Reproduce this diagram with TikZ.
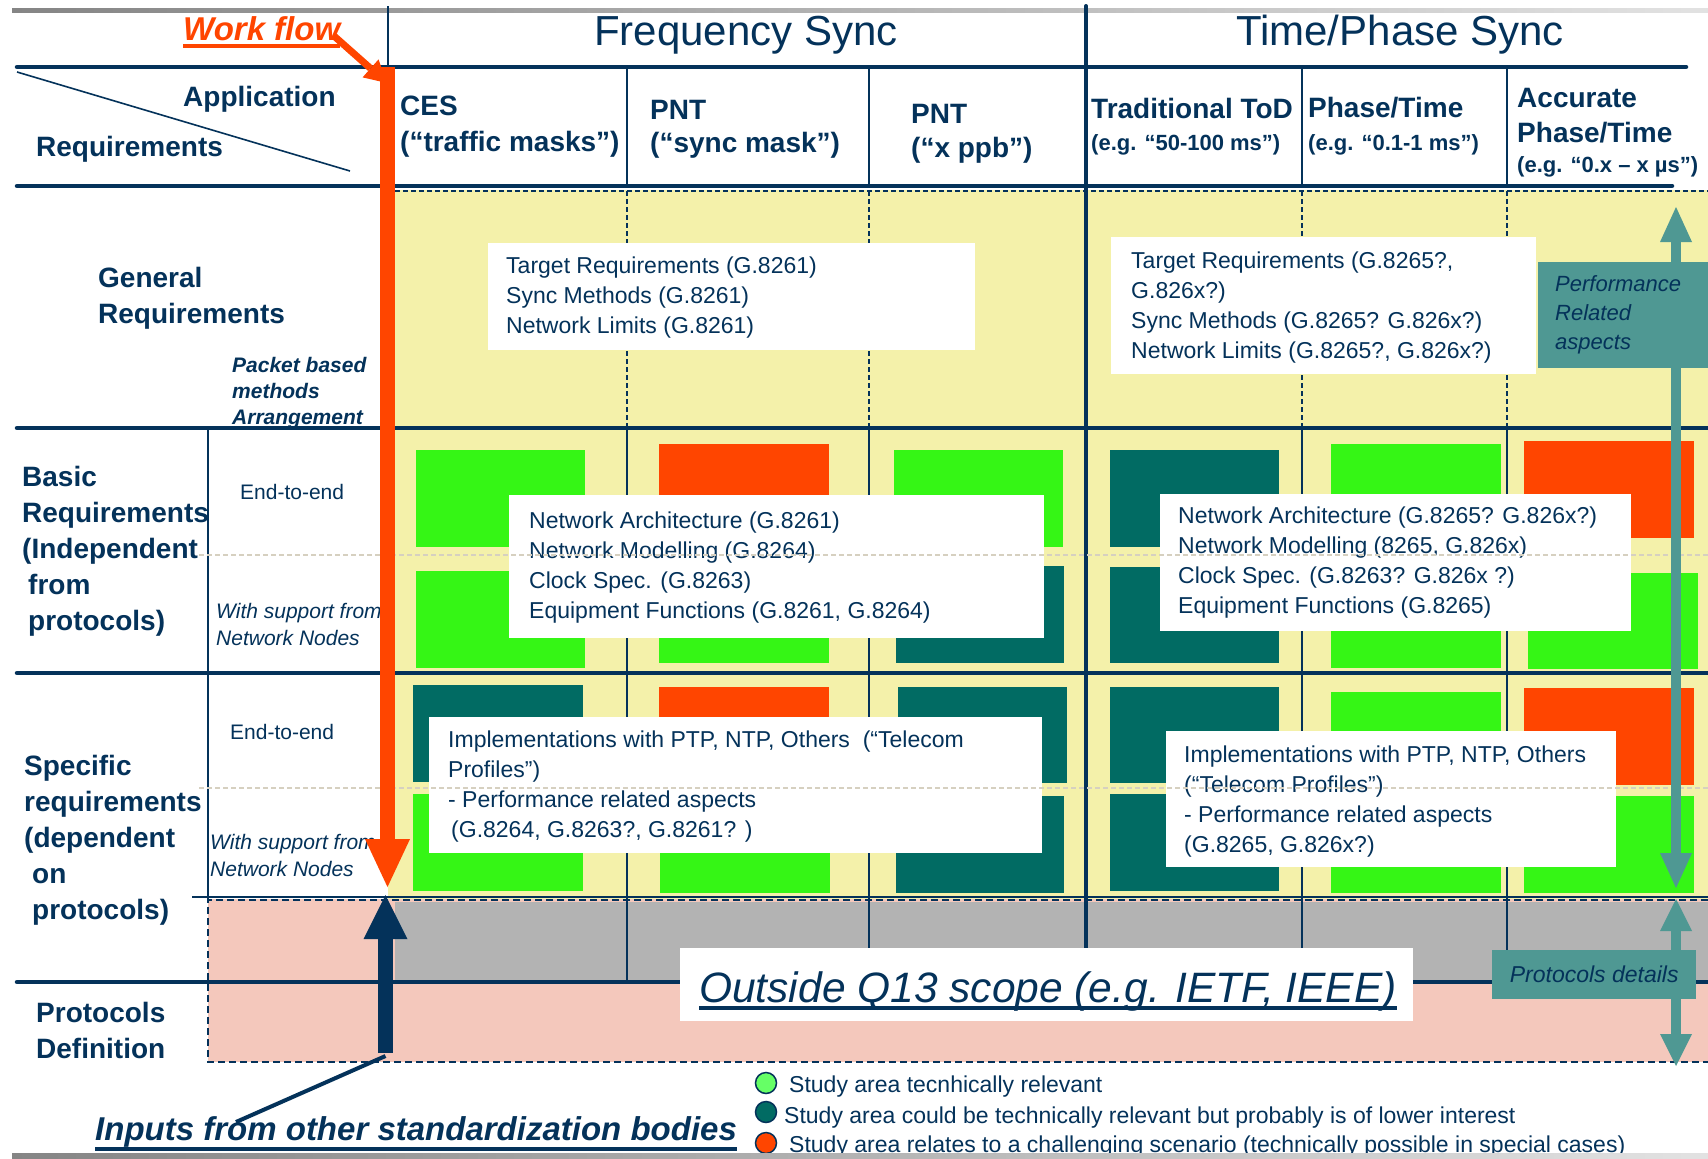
\documentclass[tikz,border=0pt]{standalone}
\usepackage{fontspec}
\setmainfont{Liberation Sans}
\usetikzlibrary{arrows.meta}
\definecolor{navy}{HTML}{04325A}
\definecolor{paleyellow}{HTML}{F4F1AA}
\definecolor{brightgreen}{HTML}{35F615}
\definecolor{hotred}{HTML}{FF4500}
\definecolor{darkteal}{HTML}{016B63}
\definecolor{midteal}{HTML}{4F9893}
\definecolor{scopegray}{HTML}{B3B3B3}
\definecolor{blush}{HTML}{F4C8BC}
\definecolor{legendgreen}{HTML}{66FF66}
\definecolor{sepline}{HTML}{D6D0C0}
\definecolor{rulegrayA}{HTML}{858585}
\definecolor{rulegrayB}{HTML}{E2E2E2}
\begin{document}
\begin{tikzpicture}[x=1pt,y=-1pt,
  every node/.style={inner sep=0pt, text=navy},
  grouphd/.style={font=\fontsize{42}{50}\selectfont},
  colhd/.style={anchor=west, font=\bfseries\fontsize{28}{34}\selectfont},
  colsub/.style={anchor=west, font=\bfseries\fontsize{22}{26}\selectfont},
  rowhd/.style={anchor=west, align=left, font=\bfseries\fontsize{28}{36}\selectfont},
  arrhd/.style={anchor=west, align=left, font=\bfseries\itshape\fontsize{21}{26}\selectfont},
  body/.style={anchor=west, align=left, font=\fontsize{23}{30}\selectfont},
  sublbl/.style={anchor=west, font=\fontsize{21}{27}\selectfont},
  sublblit/.style={anchor=west, align=left, font=\itshape\fontsize{21}{27}\selectfont},
  wbox/.style={fill=white, anchor=north west},
  tealbox/.style={fill=midteal, anchor=north west},
  thickrule/.style={draw=navy, line width=4.5pt, line cap=round},
  thinrule/.style={draw=navy, line width=1.6pt},
  dashrule/.style={draw=navy, line width=1.6pt, dash pattern=on 5pt off 3pt},
  seprule/.style={draw=sepline, line width=1.3pt, dash pattern=on 5pt off 3pt},
  legdot/.style={circle, draw=navy, line width=1.5pt, minimum size=21pt},
  legtxt/.style={anchor=west, font=\fontsize{23}{28}\selectfont}]

\useasboundingbox (0,0) rectangle (1708,1159);
\fill[white] (0,0) rectangle (1708,1159);

% top rule of the page
\shade[left color=rulegrayA, right color=rulegrayB] (12,8) rectangle (1708,12);

% coloured bands of the matrix
\fill[paleyellow] (388,190) rectangle (1708,899);
\fill[blush] (208,899) rectangle (1708,1062);
\fill[scopegray] (395,902) rectangle (1708,980);

% study area markers: basic requirements
\foreach \xa/\ya/\xb/\yb/\c in {
  416/450/585/547/brightgreen, 416/571/585/668/brightgreen,
  659/444/829/541/hotred,      659/566/829/663/brightgreen,
  894/450/1063/547/brightgreen, 896/566/1064/663/darkteal,
  1110/450/1279/547/darkteal,  1110/567/1279/663/darkteal,
  1331/444/1501/541/brightgreen, 1331/571/1501/668/brightgreen,
  1524/441/1694/538/hotred,    1528/573/1698/669/brightgreen}
  \fill[\c] (\xa,\ya) rectangle (\xb,\yb);
% study area markers: specific requirements
\foreach \xa/\ya/\xb/\yb/\c in {
  413/685/583/782/darkteal,    413/794/583/891/brightgreen,
  659/687/829/784/hotred,      660/796/830/893/brightgreen,
  898/687/1067/783/darkteal,   896/796/1064/893/darkteal,
  1110/687/1279/783/darkteal,  1110/794/1279/891/darkteal,
  1331/692/1501/789/brightgreen, 1331/796/1501/893/brightgreen,
  1524/688/1694/785/hotred,    1524/796/1694/893/brightgreen}
  \fill[\c] (\xa,\ya) rectangle (\xb,\yb);

% grid
\draw[dashrule] (395,191) -- (1708,191);
\draw[thinrule] (192,897) -- (1708,897);
\draw[navy, line width=2pt, dash pattern=on 7pt off 4pt] (1708,900) -- (208,900) -- (208,1062) -- (1708,1062);
\draw[thickrule] (17,67) -- (1686,67);
\draw[thickrule] (17,186) -- (1672,186);
\draw[thickrule] (17,428) -- (1708,428);
\draw[thickrule] (17,673) -- (1708,673);
\draw[thickrule] (17,982) -- (1708,982);
\draw[thinrule] (208,428) -- (208,899);
\draw[thinrule] (17,72) -- (350,171);
\draw[navy, line width=2.5pt] (388,6) -- (388,186);
\foreach \x in {627,869,1302,1507} {
  \draw[thinrule] (\x,67) -- (\x,186);
  \draw[dashrule] (\x,191) -- (\x,428);
  \draw[thinrule] (\x,428) -- (\x,980);
}
\draw[navy, line width=4pt, line cap=round] (1086,6) -- (1086,980);

% group headings
\node[grouphd] (freqsync) at (746,35) {Frequency Sync};
\node[grouphd] (timesync) at (1400,35) {Time/Phase Sync};

% application columns
\node[colhd] (ces) at (400,106) {CES};
\node[colhd] (cessub) at (400,144) {(“traffic masks”)};
\node[colhd] (pnta) at (650,110) {PNT};
\node[colhd] (pntasub) at (650,145) {(“sync mask”)};
\node[colhd] (pntb) at (911,114) {PNT};
\node[colhd] (pntbsub) at (911,150) {(“x ppb”)};
\node[colhd] (tod) at (1091,108) {Traditional ToD};
\node[colsub] (todsub) at (1091,145) {(e.g. “50-100 ms”)};
\node[colhd] (phase) at (1308,108) {Phase/Time};
\node[colsub] (phasesub) at (1308,145) {(e.g. “0.1-1 ms”)};
\node[colhd] (acca) at (1517,98) {Accurate};
\node[colhd] (accb) at (1517,133) {Phase/Time};
\node[colsub] (accsub) at (1517,167) {(e.g. “0.x – x µs”)};

% corner heading
\node[colhd] (application) at (183,99) {Application};
\node[colhd] (requirements) at (36,149) {Requirements};

% row headings
\node[rowhd] (general) at (98,298) {General\\Requirements};
\node[arrhd] (packet) at (232,393) {Packet based\\methods\\Arrangement};
\node[rowhd] (basic) at (22,551) {Basic\\Requirements\\(Independent\\\hspace*{6pt}from\\\hspace*{6pt}protocols)};
\node[rowhd] (specific) at (24,840) {Specific\\requirements\\(dependent\\\hspace*{8pt}on\\\hspace*{8pt}protocols)};
\node[rowhd] (protocols) at (36,1030) {Protocols\\Definition};
\node[sublbl] (etea) at (240,492) {End-to-end};
\node[sublblit] (nodesa) at (216,624) {With support from\\Network Nodes};
\node[sublbl] (eteb) at (230,732) {End-to-end};
\node[sublblit] (nodesb) at (210,855) {With support from\\Network Nodes};

% recommendation boxes
\node[wbox, minimum width=487pt, minimum height=107pt] (gfbox) at (488,243) {};
\node[body] (gftext) at ([xshift=18pt,yshift=-1pt]gfbox.west)
  {Target Requirements (G.8261)\\Sync Methods (G.8261)\\Network Limits (G.8261)};
\node[wbox, minimum width=425pt, minimum height=137pt] (gtbox) at (1111,237) {};
\node[body] (gttext) at ([xshift=20pt,yshift=-2pt]gtbox.west)
  {Target Requirements (G.8265?,\\G.826x?)\\Sync Methods (G.8265? G.826x?)\\Network Limits (G.8265?, G.826x?)};
\node[wbox, minimum width=535pt, minimum height=143pt] (bfbox) at (509,495) {};
\node[body] (bftext) at ([xshift=20pt,yshift=-1pt]bfbox.west)
  {Network Architecture (G.8261)\\Network Modelling (G.8264)\\Clock Spec. (G.8263)\\Equipment Functions (G.8261, G.8264)};
\node[wbox, minimum width=471pt, minimum height=137pt] (btbox) at (1160,494) {};
\node[body] (bttext) at ([xshift=18pt]btbox.west)
  {Network Architecture (G.8265? G.826x?)\\Network Modelling (8265, G.826x)\\Clock Spec. (G.8263? G.826x ?)\\Equipment Functions (G.8265)};
\node[wbox, minimum width=613pt, minimum height=136pt] (sfbox) at (429,717) {};
\node[body] (sftext) at ([xshift=19pt,yshift=-1pt]sfbox.west)
  {Implementations with PTP, NTP, Others~ (“Telecom\\Profiles”)\\- Performance related aspects\\\hspace*{3pt}(G.8264, G.8263?, G.8261? )};
\node[wbox, minimum width=450pt, minimum height=136pt] (stbox) at (1166,731) {};
\node[body] (sttext) at ([xshift=18pt,yshift=-2pt]stbox.west)
  {Implementations with PTP, NTP, Others\\(“Telecom Profiles”)\\- Performance related aspects\\(G.8265, G.826x?)};

% end-to-end / network node split
\draw[seprule] (199,555) -- (1708,555);
\draw[seprule] (199,788) -- (1708,788);

% scope note
\node[wbox, minimum width=733pt, minimum height=73pt] (scopebox) at (680,948) {};
\node[anchor=base west, font=\itshape\fontsize{42.5}{50}\selectfont] (scope) at (699,1002)
  {Outside Q13 scope (e.g. IETF, IEEE)};
\draw[navy, line width=4pt] ([yshift=-6pt]scope.base west) -- ([yshift=-6pt]scope.base east);

% performance and protocol ranges
\coordinate (perftop) at (1676,207);
\coordinate (perfbot) at (1676,888);
\coordinate (prottop) at (1676,899);
\coordinate (protbot) at (1676,1066);
\draw[midteal, line width=10pt,
  {Triangle[width=32pt,length=35pt,line width=0pt]}-{Triangle[width=32pt,length=35pt,line width=0pt]}]
  (perftop) -- (perfbot);
\draw[midteal, line width=10pt,
  {Triangle[width=32pt,length=32pt,line width=0pt]}-{Triangle[width=32pt,length=32pt,line width=0pt]}]
  (prottop) -- (protbot);
\node[tealbox, minimum width=170pt, minimum height=106pt] (perfbox) at (1538,262) {};
\node[anchor=west, align=left, font=\itshape\fontsize{22}{29}\selectfont] (perftext)
  at ([xshift=17pt]perfbox.west) {Performance\\Related\\aspects};
\node[tealbox, minimum width=204pt, minimum height=49pt] (protbox) at (1492,950) {};
\node[font=\itshape\fontsize{23}{28}\selectfont] (prottext) at (protbox.center) {Protocols details};

% work flow
\node[anchor=base west, text=hotred, font=\bfseries\itshape\fontsize{33}{40}\selectfont] (workflow) at (183,40) {Work flow};
\draw[hotred, line width=4pt] ([yshift=-6pt]workflow.base west) -- ([yshift=-6pt]workflow.base east);
\coordinate (wfstart) at (334,36);
\coordinate (wfbend) at (387,83);
\coordinate (wftop) at (387.5,67);
\coordinate (wftip) at (387.5,887);
\draw[hotred, line width=7pt, -{Triangle[width=24pt,length=22pt,line width=0pt]}] (wfstart) -- (wfbend);
\draw[hotred, line width=15pt, -{Triangle[width=45pt,length=48pt,line width=0pt]}] (wftop) -- (wftip);

% external inputs
\coordinate (inbottom) at (385.5,1053);
\coordinate (intip) at (385.5,895);
\draw[navy, line width=15pt, -{Triangle[width=44pt,length=44pt,line width=0pt]}] (inbottom) -- (intip);
\node[anchor=base west, font=\bfseries\itshape\fontsize{33}{40}\selectfont] (inputs) at (95,1140)
  {Inputs from other standardization bodies};
\draw[navy, line width=4pt] ([yshift=-9pt]inputs.base west) -- ([yshift=-9pt]inputs.base east);
\coordinate (inlink) at (236,1122);
\draw[navy, line width=4pt] (inlink) -- ([yshift=-3pt]inbottom);

% legend
\node[legdot, fill=legendgreen] (lga) at (766,1083) {};
\node[legtxt] (lgatext) at (789,1087) {Study area tecnhically relevant};
\node[legdot, fill=darkteal] (lgb) at (766,1112) {};
\node[legtxt] (lgbtext) at (784,1118) {Study area could be technically relevant but probably is of lower interest};
\node[legdot, fill=hotred] (lgc) at (766,1143) {};
\node[legtxt] (lgctext) at (789,1147) {Study area relates to a challenging scenario (technically possible in special cases)};

% bottom rule of the page
\shade[left color=rulegrayA, right color=rulegrayB] (12,1153) rectangle (1708,1158);
\end{tikzpicture}
\end{document}
